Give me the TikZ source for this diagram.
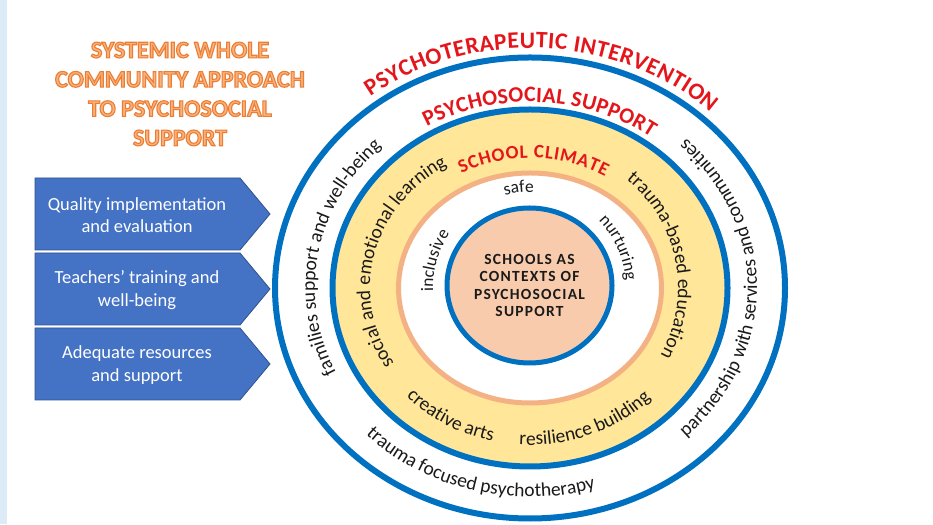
\documentclass[tikz,border=0pt]{standalone}
\usepackage{fontspec}
\setmainfont{Carlito}
\newfontfamily\carl{Carlito}
\usetikzlibrary{decorations.text,shapes.geometric,calc}

\definecolor{ringblue}{RGB}{0,112,192}
\definecolor{bandyellow}{RGB}{255,230,153}
\definecolor{ringorange}{RGB}{244,177,131}
\definecolor{corefill}{RGB}{248,203,173}
\definecolor{arrowblue}{RGB}{68,114,196}
\definecolor{arrowedge}{RGB}{47,82,143}
\definecolor{stripblue}{RGB}{221,235,247}
\definecolor{titlered}{RGB}{228,22,28}
\definecolor{titlefill}{RGB}{246,178,128}
\definecolor{inktext}{RGB}{26,26,26}

% outlined lettering: fill with the current colour, stroke in dark orange
\newcommand\outlineon{\special{pdf:literal direct 2 Tr 1.1 w 0.929 0.490 0.192 RG}}
\newcommand\outlineoff{\special{pdf:literal direct 0 Tr}}

% fonts used along the rings
\newcommand\ringfont{\carl\fontsize{19.5}{20}\selectfont\color{inktext}}
\newcommand\innerfont{\carl\fontsize{17.5}{18}\selectfont\color{inktext}}
\newcommand\capsA{\carl\bfseries\fontsize{23.5}{24}\selectfont\color{titlered}}
\newcommand\capsB{\carl\bfseries\fontsize{22}{23}\selectfont\color{titlered}}
\newcommand\capsC{\carl\bfseries\fontsize{19}{20}\selectfont\color{titlered}}

\tikzset{
  ring/.style={draw=ringblue, line width=6},
  arrowbox/.style={fill=arrowblue, draw=arrowedge, line width=0.8, line join=miter},
  arrowtext/.style={text=white, align=center, inner sep=0,
    font=\carl\fontsize{18.5}{22.5}\selectfont},
  arctext/.style={decorate, decoration={text along path, text align=center, text={#1}}},
  fittext/.style={decorate, decoration={text along path, text align=fit to path, text={#1}}},
}

\begin{document}
\begin{tikzpicture}[x=1pt, y=1pt]
\useasboundingbox (0,0) rectangle (933,524);
\fill[white] (0,0) rectangle (933,524);
\fill[stripblue] (0,0) rectangle (7,524);

% title
\node[align=center, text=titlefill, inner sep=0,
      font=\carl\bfseries\fontsize{24}{29.3}\selectfont] (title) at (180,430)
  {\outlineon SYSTEMIC WHOLE\\COMMUNITY APPROACH\\TO PSYCHOSOCIAL\\SUPPORT\outlineoff};

% supporting pillars
\draw[arrowbox] (35,346) -- (240,346) -- (270,310) -- (240,274) -- (35,274) -- cycle;
\draw[arrowbox] (35,271) -- (240,271) -- (270,235) -- (240,199) -- (35,199) -- cycle;
\draw[arrowbox] (35,196) -- (240,196) -- (270,160) -- (240,124) -- (35,124) -- cycle;
\node[arrowtext] (quality) at (137,309) {Quality implementation\\and evaluation};
\node[arrowtext] (teachers) at (137,234) {Teachers’ training and\\well-being};
\node[arrowtext] (resources) at (137,159) {Adequate resources\\and support};

% concentric rings
\coordinate (C) at (530,236);
\fill[bandyellow] (C) ellipse [x radius=197.5, y radius=178.5];
\fill[white] (C) ellipse [x radius=131.5, y radius=115];
\draw[ring] (C) ellipse [x radius=255, y radius=230.5];
\draw[ring] (C) ellipse [x radius=197.5, y radius=178.5];
\draw[draw=ringorange, line width=5] (C) ellipse [x radius=131.5, y radius=115];

% core
\node[ellipse, draw=ringblue, line width=5, fill=corefill, inner sep=0,
      minimum width=165, minimum height=155, align=center, text=inktext,
      font=\carl\bfseries\fontsize{15.5}{17.3}\selectfont\addfontfeature{LetterSpace=8}]
  (core) at (529.5,238.5) {SCHOOLS AS\\CONTEXTS OF\\PSYCHOSOCIAL\\SUPPORT};

% ring headings
\path[fittext={|\capsA|PSYCHOTERAPEUTIC INTERVENTION}]
  ($(C)+(127:265 and 240)$) arc[start angle=127, end angle=47, x radius=265, y radius=240];
\path[fittext={|\capsB|PSYCHOSOCIAL SUPPORT}]
  ($(C)+(120:206 and 186)$) arc[start angle=120, end angle=54, x radius=206, y radius=186];
\path[fittext={|\capsC|SCHOOL CLIMATE}]
  ($(C)+(118:146 and 130)$) arc[start angle=118, end angle=59, x radius=146, y radius=130];

% outer ring labels
\path[arctext={|\ringfont|families support and well-being}]
  ($(C)+(230:215 and 195)$) arc[start angle=230, end angle=110, x radius=215, y radius=195];
\path[arctext={|\ringfont|partnership with services and communities}]
  ($(C)+(-70:227 and 205)$) arc[start angle=-70, end angle=70, x radius=227, y radius=205];
\path[arctext={|\ringfont|trauma focused psychotherapy}]
  ($(C)+(200:230 and 209)$) arc[start angle=200, end angle=310, x radius=230, y radius=209];

% yellow band labels
\path[arctext={|\ringfont|social and emotional learning}]
  ($(C)+(232:160 and 143)$) arc[start angle=232, end angle=102, x radius=160, y radius=143];
\path[arctext={|\ringfont|trauma-based education}]
  ($(C)+(70:148 and 143)$) arc[start angle=70, end angle=-49, x radius=148, y radius=143];
\path[arctext={|\ringfont|creative arts}]
  ($(C)+(205:171 and 157)$) arc[start angle=205, end angle=275, x radius=171, y radius=157];
\path[arctext={|\ringfont|resilience building}]
  ($(C)+(256:171 and 157)$) arc[start angle=256, end angle=326, x radius=171, y radius=157];

% school climate qualities
\path[arctext={|\innerfont|safe}]
  ($(C)+(130:96 and 96)$) arc[start angle=130, end angle=63, radius=96];
\path[arctext={|\innerfont|inclusive}]
  ($(C)+(200:97 and 97)$) arc[start angle=200, end angle=128, radius=97];
\path[arctext={|\innerfont|nurturing}]
  ($(C)+(60:96 and 96)$) arc[start angle=60, end angle=-11, radius=96];
\end{tikzpicture}
\end{document}
